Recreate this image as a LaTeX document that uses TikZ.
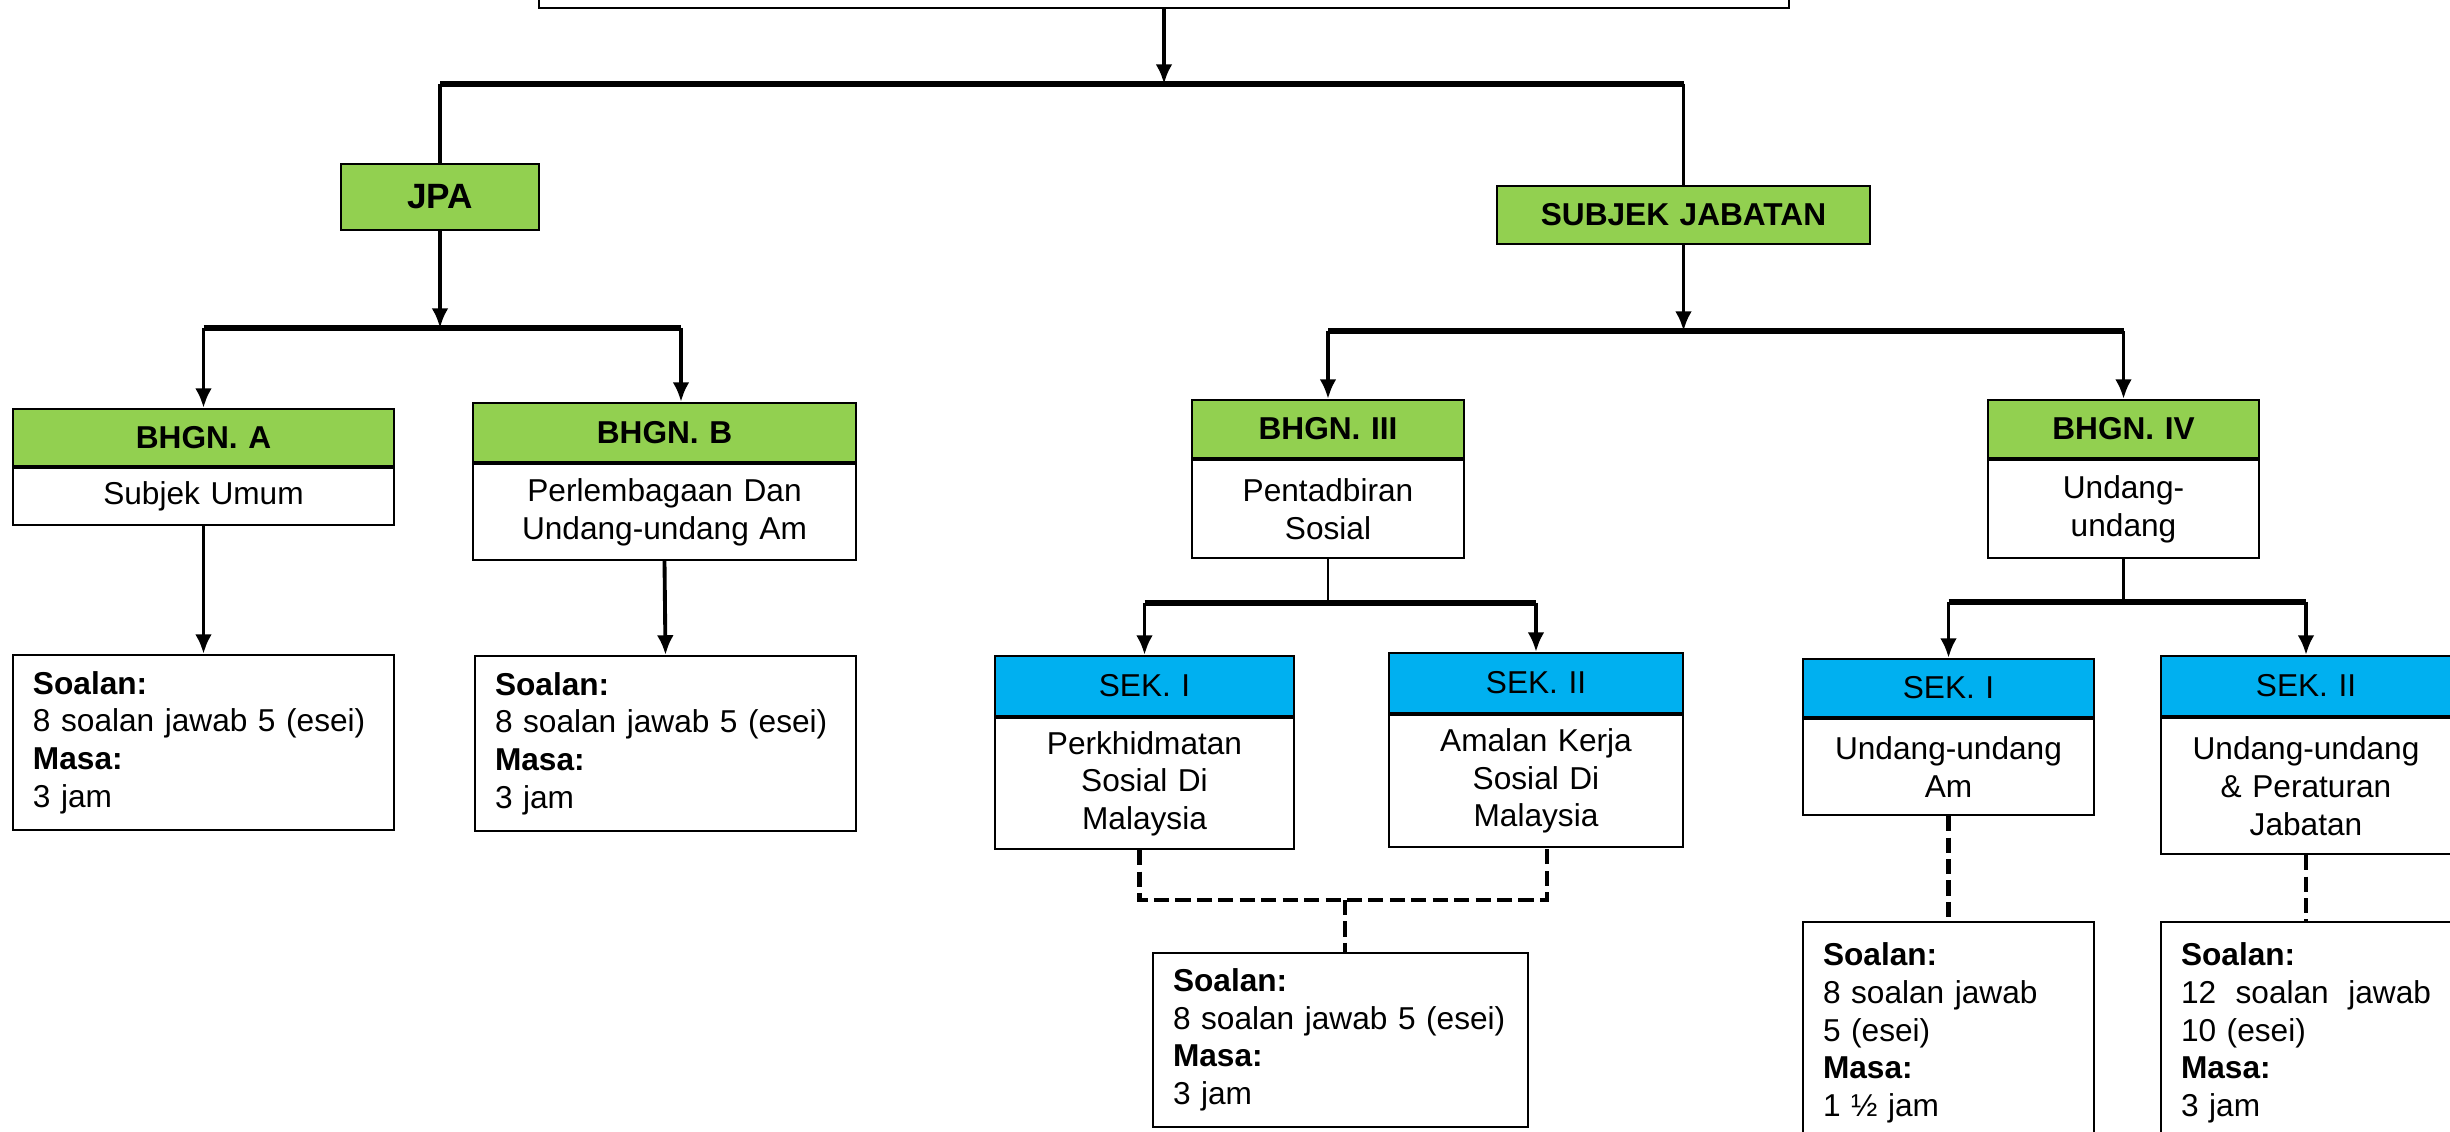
\documentclass[tikz,border=0pt]{standalone}
\usepackage{fontspec}
\setmainfont{Liberation Sans}
\usetikzlibrary{positioning,arrows.meta}
\definecolor{hgreen}{HTML}{92D050}
\definecolor{hblue}{HTML}{00B0F0}
\tikzset{box/.style={draw,line width=0.6pt,inner sep=0pt,align=center}}
\tikzset{head/.style={box,fill=hgreen,font=\bfseries}}
\tikzset{sek/.style={box,fill=hblue}}
\tikzset{info/.style={draw,line width=0.6pt,inner xsep=0.2cm,inner ysep=0pt,align=left}}
\tikzset{link/.style={-{Latex[length=5.6pt,width=4.8pt]},line width=1.1pt}}
\tikzset{vline/.style={line width=1.1pt}}
\tikzset{bar/.style={line width=1.6pt}}
\tikzset{thinline/.style={line width=0.7pt}}
\tikzset{dashlink/.style={line width=1.2pt,dash pattern=on 4.3pt off 1.8pt}}

\begin{document}
\fontsize{9}{10.7}\selectfont
\begin{tikzpicture}
  \clip (0,0) rectangle (24.5,-11.32);
  \fill[white] (0,0) rectangle (24.5,-11.32);
  \node[box,minimum width=12.5cm,minimum height=0.6cm] (top) at (11.64,0.22) {};
  \node[head,text width=1.98cm,minimum height=0.66cm,font=\fontsize{10}{12}\selectfont\bfseries] (jpa) at (4.40,-1.97) {JPA};
  \node[head,text width=3.73cm,minimum height=0.58cm] (subjek) at (16.835,-2.15) {SUBJEK JABATAN};
  \coordinate (j0) at (11.63,-0.84);
  \coordinate (j1) at (4.42,-3.28);
  \coordinate (j2) at (16.84,-3.31);
  \coordinate (j3) at (13.27,-6.03);
  \coordinate (j4) at (21.22,-6.02);
  \coordinate (jd) at (13.45,-9.00);
  \draw[link] (top.south |- 0,-0.08) -- (top.south |- j0);
  \draw[bar] (jpa.north |- j0) -- (subjek.north |- j0);
  \draw[vline] (jpa.north |- j0) -- (jpa.north);
  \draw[vline] (subjek.north |- j0) -- (subjek.north);
  % JPA
  \node[head,text width=3.81cm,minimum height=0.57cm] (bAh) at (2.035,-4.375) {BHGN. A};
  \node[box,text width=3.81cm,minimum height=0.57cm,below=0pt of bAh] (bAb) {Subjek Umum};
  \node[head,text width=3.83cm,minimum height=0.59cm] (bBh) at (6.645,-4.325) {BHGN. B};
  \node[box,text width=3.83cm,minimum height=0.96cm,below=0pt of bBh] (bBb) {Perlembagaan Dan\\Undang-undang Am};
  \node[info,text width=3.41cm,minimum height=1.75cm] (qA) at (2.035,-7.425)
    {\textbf{Soalan:}\\8 soalan jawab 5 (esei)\\\textbf{Masa:}\\3 jam};
  \node[info,text width=3.41cm,minimum height=1.75cm] (qB) at (6.655,-7.435)
    {\textbf{Soalan:}\\8 soalan jawab 5 (esei)\\\textbf{Masa:}\\3 jam};
  \draw[link] (jpa.south) -- (jpa.south |- j1);
  \draw[bar] (bAh.north |- j1) -- ([xshift=0.165cm]bBh.north |- j1);
  \draw[link] (bAh.north |- j1) -- (bAh.north);
  \draw[link] ([xshift=0.165cm]bBh.north |- j1) -- ([xshift=0.165cm]bBh.north);
  \draw[link] (bAb.south) -- (qA.north);
  \draw[link] (bBb.south) -- (qB.north);
  % SUBJEK JABATAN
  \node[head,text width=2.72cm,minimum height=0.58cm] (b3h) at (13.28,-4.29) {BHGN. III};
  \node[box,text width=2.72cm,minimum height=0.98cm,below=0pt of b3h] (b3b) {Pentadbiran\\Sosial};
  \node[head,text width=2.71cm,minimum height=0.58cm] (b4h) at (21.235,-4.29) {BHGN. IV};
  \node[box,text width=2.71cm,minimum height=0.98cm,below=0pt of b4h] (b4b) {Undang-\\undang};
  \draw[link] (subjek.south) -- (subjek.south |- j2);
  \draw[bar] (b3h.north |- j2) -- (b4h.north |- j2);
  \draw[link] (b3h.north |- j2) -- (b3h.north);
  \draw[link] (b4h.north |- j2) -- (b4h.north);
  % BHGN. III
  \node[sek,text width=2.99cm,minimum height=0.60cm] (s1h) at (11.445,-6.86) {SEK. I};
  \node[box,text width=2.99cm,minimum height=1.31cm,below=0pt of s1h] (s1b) {Perkhidmatan\\Sosial Di\\Malaysia};
  \node[sek,text width=2.94cm,minimum height=0.60cm] (s2h) at (15.36,-6.83) {SEK. II};
  \node[box,text width=2.94cm,minimum height=1.32cm,below=0pt of s2h] (s2b) {Amalan Kerja\\Sosial Di\\Malaysia};
  \node[info,text width=3.35cm,minimum height=1.74cm] (q3) at (13.405,-10.40)
    {\textbf{Soalan:}\\8 soalan jawab 5 (esei)\\\textbf{Masa:}\\3 jam};
  \draw[thinline] (b3b.south) -- (b3b.south |- j3);
  \draw[bar] (s1h.north |- j3) -- (s2h.north |- j3);
  \draw[link] (s1h.north |- j3) -- (s1h.north);
  \draw[link] (s2h.north |- j3) -- (s2h.north);
  \draw[dashlink] ([xshift=-0.05cm]s1b.south) |- (jd) -| ([xshift=0.11cm]s2b.south);
  \draw[dashlink] (jd) -- (jd |- q3.north);
  % BHGN. IV
  \node[sek,text width=2.91cm,minimum height=0.58cm] (t1h) at (19.485,-6.88) {SEK. I};
  \node[box,text width=2.91cm,minimum height=0.96cm,below=0pt of t1h] (t1b) {Undang-undang\\Am};
  \node[sek,text width=2.90cm,minimum height=0.60cm] (t2h) at (23.06,-6.86) {SEK. II};
  \node[box,text width=2.90cm,minimum height=1.36cm,below=0pt of t2h] (t2b) {Undang-undang\\\& Peraturan\\Jabatan};
  \node[info,text width=2.51cm,minimum height=2.22cm] (q4) at (19.485,-10.33)
    {\textbf{Soalan:}\\8 soalan jawab\\5 (esei)\\\textbf{Masa:}\\1 ½ jam};
  \node[info,text width=2.50cm,minimum height=2.22cm] (q5) at (23.06,-10.33)
    {\textbf{Soalan:}\\12\hfill soalan\hfill jawab\\10 (esei)\\\textbf{Masa:}\\3 jam};
  \draw[thinline] (b4b.south) -- (b4b.south |- j4);
  \draw[bar] (t1h.north |- j4) -- (t2h.north |- j4);
  \draw[link] (t1h.north |- j4) -- (t1h.north);
  \draw[link] (t2h.north |- j4) -- (t2h.north);
  \draw[dashlink] (t1b.south) -- (q4.north);
  \draw[dashlink] (t2b.south) -- (q5.north);
\end{tikzpicture}
\end{document}
